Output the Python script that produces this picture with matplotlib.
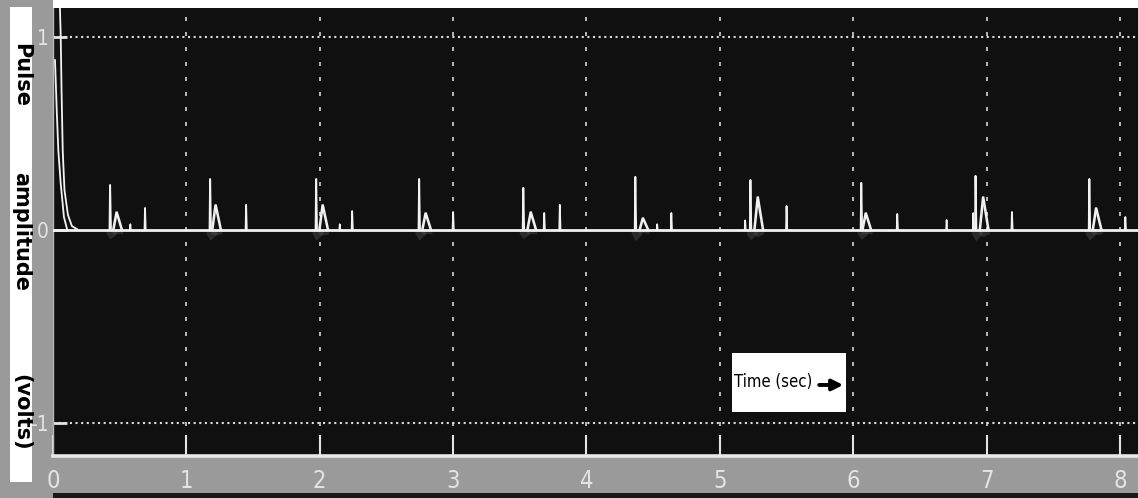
import matplotlib
matplotlib.use("Agg")
import matplotlib.pyplot as plt
from matplotlib import font_manager
from matplotlib.font_manager import FontProperties
from matplotlib.patches import Rectangle

# ---- recorded pulse train -------------------------------------------------
# switching transient at t = 0 (two traces of the decay)
decay_a_t = [0.052, 0.058, 0.064, 0.073, 0.086, 0.112, 0.142, 0.19]
decay_a_v = [1.15, 1.0, 0.725, 0.41, 0.207, 0.078, 0.02, 0.0]
decay_b_t = [0.015, 0.028, 0.040, 0.058, 0.082, 0.107]
decay_b_v = [0.88, 0.62, 0.41, 0.24, 0.067, 0.0]

# main (percussion) peak of every beat
spike_t = [0.428, 1.178, 1.973, 2.745, 3.526, 4.366, 5.229, 6.06, 6.917, 7.77]
spike_v = [0.233, 0.264, 0.264, 0.264, 0.218, 0.275, 0.259, 0.244, 0.280, 0.264]
# reflected wave right after the main peak
bump_t = [0.473, 1.215, 2.018, 2.79, 3.578, 4.419, 5.28, 6.09, 6.97, 7.817]
bump_v = [0.093, 0.130, 0.130, 0.088, 0.093, 0.062, 0.171, 0.088, 0.171, 0.114]
# late (dicrotic) echoes
echo_t = [0.69, 1.448, 2.243, 3.0, 3.683, 3.80, 4.636, 5.50, 6.33, 7.19, 8.04]
echo_v = [0.114, 0.130, 0.098, 0.093, 0.088, 0.130, 0.088, 0.124, 0.083, 0.093, 0.067]
# small blips close to the baseline
blip_t = [0.58, 2.15, 4.53, 5.19, 6.70, 6.90]
blip_v = [0.03, 0.03, 0.03, 0.05, 0.052, 0.088]

t_end = 8.135
x_ticks = [0, 1, 2, 3, 4, 5, 6, 7, 8]
x_tick_labels = ["0", "1", "2", "3", "4", "5", "6", "7", "8"]
y_ticks = [-1, 0, 1]
y_tick_labels = ["-1", "0", "1"]

# ---- fonts: prefer a narrow / condensed sans face if one is installed ------
def find_narrow():
    best = None
    for f in font_manager.fontManager.ttflist:
        nm = f.name + " " + f.fname
        narrowish = ("Narrow" in nm or "Condensed" in nm
                     or f.stretch in ("condensed", "semi-condensed", "extra-condensed"))
        if not narrowish or f.style != "normal":
            continue
        if "Mono" in nm or "Serif" in nm:
            continue
        w = f.weight if isinstance(f.weight, int) else 400
        score = abs(w - 400)
        if best is None or score < best[0]:
            best = (score, f.fname)
    return best[1] if best else None

narrow_path = find_narrow()
if narrow_path:
    label_font = FontProperties(fname=narrow_path)
    caption_size = 12
else:
    label_font = FontProperties(family="Liberation Sans")
    caption_size = 11

# ---- figure ---------------------------------------------------------------
W, H = 1138, 498
fig = plt.figure(figsize=(W / 100, H / 100), dpi=100, facecolor="#9a9a9a")
ax = fig.add_axes([53 / W, (H - 456) / H, (W - 53) / W, 448 / H])
ax.set_facecolor("#101010")
ax.set_xlim(0, t_end)
ax.set_ylim(-1.171, 1.150)

# frame decorations around the scope display
fig.patches.append(Rectangle((53 / W, (H - 8) / H), 1 - 53 / W, 8 / H,
                             transform=fig.transFigure, facecolor="white",
                             edgecolor="none", zorder=0))
fig.patches.append(Rectangle((53 / W, 0), 1 - 53 / W, 5 / H,
                             transform=fig.transFigure, facecolor="#181818",
                             edgecolor="none", zorder=0))
fig.patches.append(Rectangle((10 / W, (H - 482) / H), 22 / W, 475 / H,
                             transform=fig.transFigure, facecolor="white",
                             edgecolor="none", zorder=1))

# grid
for xv in x_ticks[1:]:
    ax.axvline(xv, color="#d4d4d4", lw=1.2, linestyle=(0, (2.4, 6.6)), zorder=1)
for yv in (-1, 1):
    ax.axhline(yv, color="#dcdcdc", lw=1.5, linestyle=(0, (1.0, 1.7)), zorder=1)

trace = "#f2f2f2"
ghost = "#5c5c5c"

# faint smear just below the baseline under each beat
for t, v in zip(spike_t + bump_t, spike_v + bump_v):
    ax.fill_between([t - 0.03, t, t + 0.05], [0, 0, 0], [-0.02, -0.2 * v, -0.02],
                    color=ghost, alpha=0.35, lw=0, zorder=2)

# baseline of the trace
ax.plot([0, t_end], [0, 0], color=trace, lw=2.0, zorder=4)

# initial transient
ax.plot(decay_a_t, decay_a_v, color=trace, lw=1.3, zorder=4)
ax.plot(decay_b_t, decay_b_v, color=trace, lw=1.3, zorder=4)

# main peaks
for t, v in zip(spike_t, spike_v):
    ax.plot([t - 0.004, t, t + 0.006], [0, v, 0.01], color=trace, lw=1.4, zorder=4)
# reflected waves (double outline)
for t, v in zip(bump_t, bump_v):
    for dx in (0.0, 0.008):
        ax.plot([t - 0.025 + dx, t + dx, t + 0.04 + dx], [0, v, 0],
                color=trace, lw=1.1, zorder=4)
# echoes
for t, v in zip(echo_t, echo_v):
    ax.plot([t - 0.004, t, t + 0.005], [0, v, 0], color=trace, lw=1.3, zorder=4)
# blips
for t, v in zip(blip_t, blip_v):
    ax.plot([t - 0.004, t, t + 0.004], [0, v, 0], color=trace, lw=1.2, zorder=4)

# axes styling
for side in ("top", "right"):
    ax.spines[side].set_visible(False)
ax.spines["left"].set_color("#b8b8b8")
ax.spines["left"].set_linewidth(1.0)
ax.spines["bottom"].set_color("#e8e8e8")
ax.spines["bottom"].set_linewidth(2.6)

ax.set_xticks(x_ticks)
ax.set_xticklabels(x_tick_labels)
ax.set_yticks(y_ticks)
ax.set_yticklabels(y_tick_labels)
ax.tick_params(axis="x", direction="in", length=15, width=1.5, colors="#e4e4e4",
               pad=9)
ax.tick_params(axis="y", direction="in", length=10, width=2.0, colors="#e4e4e4",
               pad=3)
for lab in ax.get_xticklabels():
    lab.set_fontproperties(label_font)
    lab.set_fontsize(17)
for lab in ax.get_yticklabels():
    lab.set_fontproperties(label_font)
    lab.set_fontsize(15)

# vertical axis title, one word at a time down the white strip
for word, yc in (("Pulse", 75), ("amplitude", 231), ("(volts)", 412)):
    fig.text(21 / W, 1 - yc / H, word, rotation=-90, ha="center", va="center",
             fontsize=15, fontweight="bold", family="DejaVu Sans", color="black",
             zorder=3)

# time-axis caption box
ax.add_patch(Rectangle((5.09, -0.943), 0.856, 0.306, facecolor="white",
                       edgecolor="none", zorder=5))
cap = ax.text(5.105, -0.79, "Time (sec)", ha="left", va="center",
              color="black", zorder=6)
cap.set_fontproperties(label_font)
cap.set_fontsize(caption_size)
ax.annotate("", xy=(5.925, -0.803), xytext=(5.745, -0.803),
            arrowprops=dict(arrowstyle="-|>", lw=2.8, color="black",
                            mutation_scale=16, shrinkA=0, shrinkB=0),
            zorder=6)

fig.savefig("out.png", dpi=100, facecolor=fig.get_facecolor())
